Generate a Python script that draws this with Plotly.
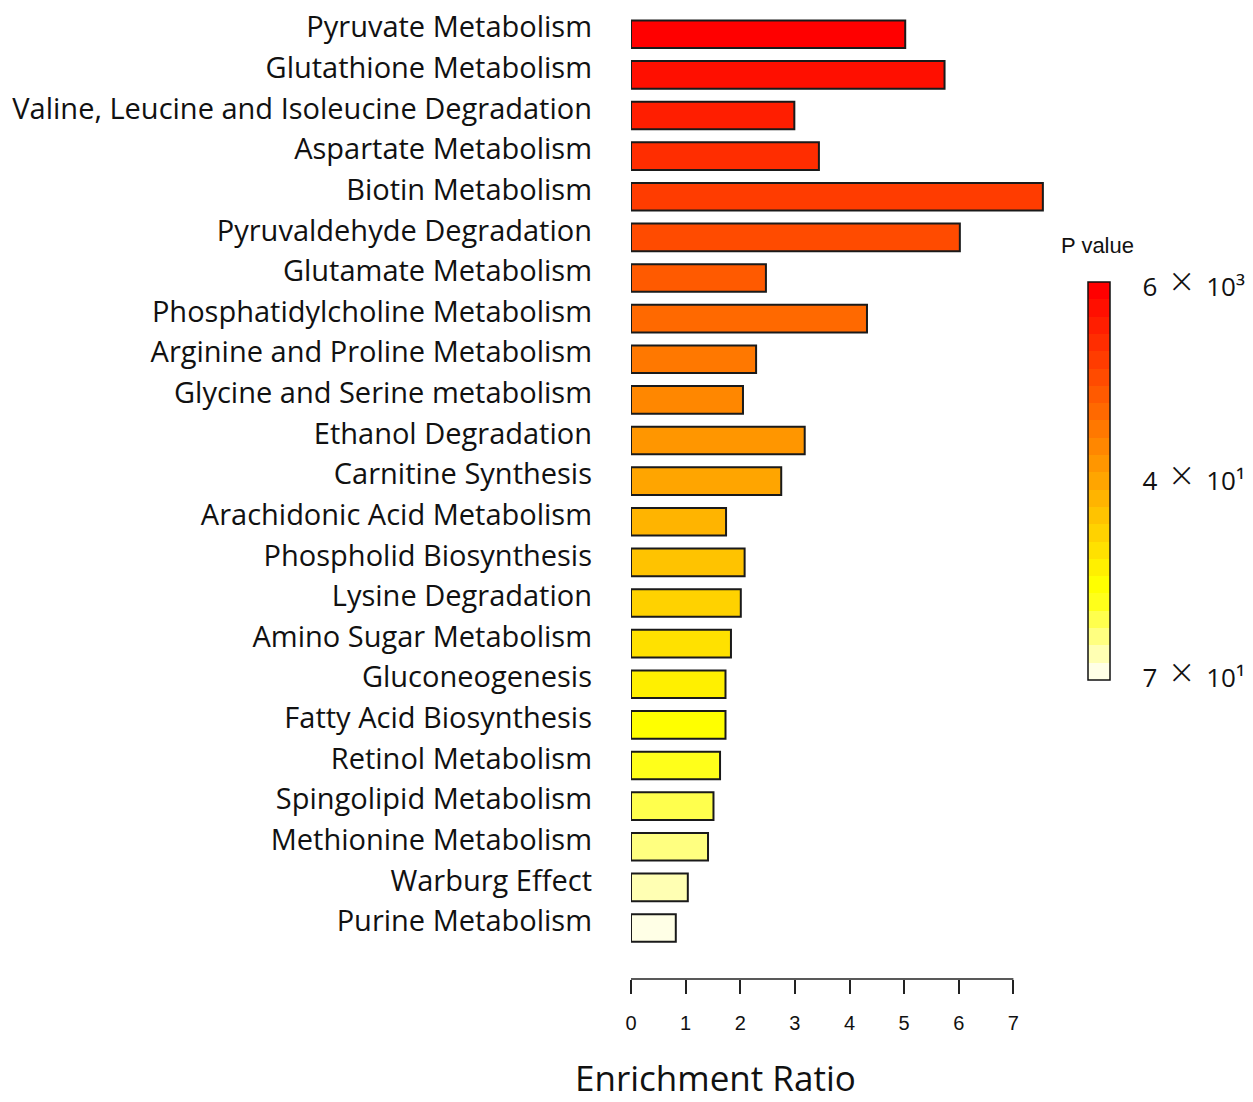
import plotly.graph_objects as go

# Pathways, listed from most to least significant
pathways = [
    "Pyruvate Metabolism",
    "Glutathione Metabolism",
    "Valine, Leucine and Isoleucine Degradation",
    "Aspartate Metabolism",
    "Biotin Metabolism",
    "Pyruvaldehyde Degradation",
    "Glutamate Metabolism",
    "Phosphatidylcholine Metabolism",
    "Arginine and Proline Metabolism",
    "Glycine and Serine metabolism",
    "Ethanol Degradation",
    "Carnitine Synthesis",
    "Arachidonic Acid Metabolism",
    "Phospholid Biosynthesis",
    "Lysine Degradation",
    "Amino Sugar Metabolism",
    "Gluconeogenesis",
    "Fatty Acid Biosynthesis",
    "Retinol Metabolism",
    "Spingolipid Metabolism",
    "Methionine Metabolism",
    "Warburg Effect",
    "Purine Metabolism",
]

enrichment_ratio = [
    5.02, 5.74, 2.99, 3.44, 7.54, 6.02, 2.47, 4.32, 2.29, 2.05, 3.18, 2.75,
    1.74, 2.08, 2.01, 1.83, 1.73, 1.73, 1.63, 1.51, 1.41, 1.04, 0.82,
]

# Significance rank (0 = smallest p value) drives the bar colour
p_rank = list(range(len(pathways)))

x_ticks = [0, 1, 2, 3, 4, 5, 6, 7]
p_tick_vals = [22.2, 11.0, -0.4]
p_tick_text = ["6", "4", "7"]
p_tick_exp = ["10\u00b3", "10\u00b9", "10\u00b9"]

# Heat palette, red (most significant) to pale yellow
heat = [
    "#FF0000", "#FF0F00", "#FF1E00", "#FF2D00", "#FF3C00", "#FF4B00",
    "#FF5A00", "#FF6900", "#FF7800", "#FF8700", "#FF9600", "#FFA500",
    "#FFB400", "#FFC300", "#FFD200", "#FFE100", "#FFF000", "#FFFF00",
    "#FFFF1A", "#FFFF4D", "#FFFF80", "#FFFFB3", "#FFFFE6",
]
n = len(heat)
pal = heat[::-1]  # low value -> pale, high value -> red
colorscale = []
for k, c in enumerate(pal):
    colorscale.append([k / n, c])
    colorscale.append([(k + 1) / n, c])

color_vals = [n - 1 - r for r in p_rank]

# Colour-bar labels: mantissa, a large thin multiplication sign, power of ten
cross = "<span style='font-size:40px;font-weight:300'>\u00d7</span>"
cb_text = [f"{m}\u2002{cross}\u2002{e}" for m, e in zip(p_tick_text, p_tick_exp)]

W, H = 1253, 1102
ml, mt, mb = 631, 14, 123
x_max = 8.0
px_per_unit = 382 / 7
plot_w = x_max * px_per_unit
mr = W - ml - plot_w
plot_h = H - mt - mb

fig = go.Figure()
fig.add_trace(go.Bar(
    x=enrichment_ratio,
    y=pathways,
    orientation="h",
    width=0.68,
    marker=dict(
        color=color_vals,
        colorscale=colorscale,
        cmin=-0.5,
        cmax=n - 0.5,
        line=dict(color="#1a1a1a", width=2),
        showscale=True,
        colorbar=dict(
            x=(1088 - ml) / plot_w,
            xanchor="left",
            y=(979 - 680) / plot_h,
            yanchor="bottom",
            lenmode="pixels",
            len=398,
            thickness=22,
            outlinewidth=1.5,
            outlinecolor="#111111",
            tickmode="array",
            tickvals=p_tick_vals,
            ticktext=cb_text,
            ticks="outside",
            ticklen=27,
            tickcolor="rgba(0,0,0,0)",
            tickfont=dict(family="Open Sans", size=26, color="#111111"),
            xpad=0,
            ypad=0,
        ),
    ),
    hoverinfo="x+y",
))

# Axis baseline spanning only the tick range
fig.add_shape(
    type="line", xref="x", yref="paper",
    x0=0, x1=7, y0=0, y1=0,
    line=dict(color="#222222", width=1.5),
)

fig.add_annotation(
    text="Enrichment Ratio",
    xref="paper", yref="paper",
    x=(715.5 - ml) / plot_w, y=(979 - 1077) / plot_h,
    xanchor="center", yanchor="middle",
    showarrow=False,
    font=dict(family="Open Sans", size=35, color="#111111"),
)

fig.add_annotation(
    text="P value",
    xref="paper", yref="paper",
    x=(1059 - ml) / plot_w, y=(979 - 245) / plot_h,
    xanchor="left", yanchor="middle",
    showarrow=False,
    font=dict(family="Liberation Sans", size=22, color="#111111"),
)

fig.update_layout(
    width=W,
    height=H,
    margin=dict(l=ml, r=mr, t=mt, b=mb, pad=0, autoexpand=False),
    paper_bgcolor="white",
    plot_bgcolor="white",
    showlegend=False,
    xaxis=dict(
        range=[0, x_max],
        tickmode="array",
        tickvals=x_ticks,
        ticks="outside",
        ticklen=14,
        tickwidth=1.5,
        tickcolor="#222222",
        showline=False,
        showgrid=False,
        zeroline=False,
        ticklabelstandoff=12,
        tickfont=dict(family="Liberation Sans", size=20, color="#111111"),
    ),
    yaxis=dict(
        type="category",
        categoryorder="array",
        categoryarray=pathways,
        range=[len(pathways) - 1 + 1.256, -0.5],
        autorange=False,
        showline=False,
        showgrid=False,
        zeroline=False,
        ticks="",
        ticklabelstandoff=38,
        ticklabelshift=7,
        tickfont=dict(family="Open Sans", size=29, color="#111111"),
    ),
)

fig.write_html("out.html")
